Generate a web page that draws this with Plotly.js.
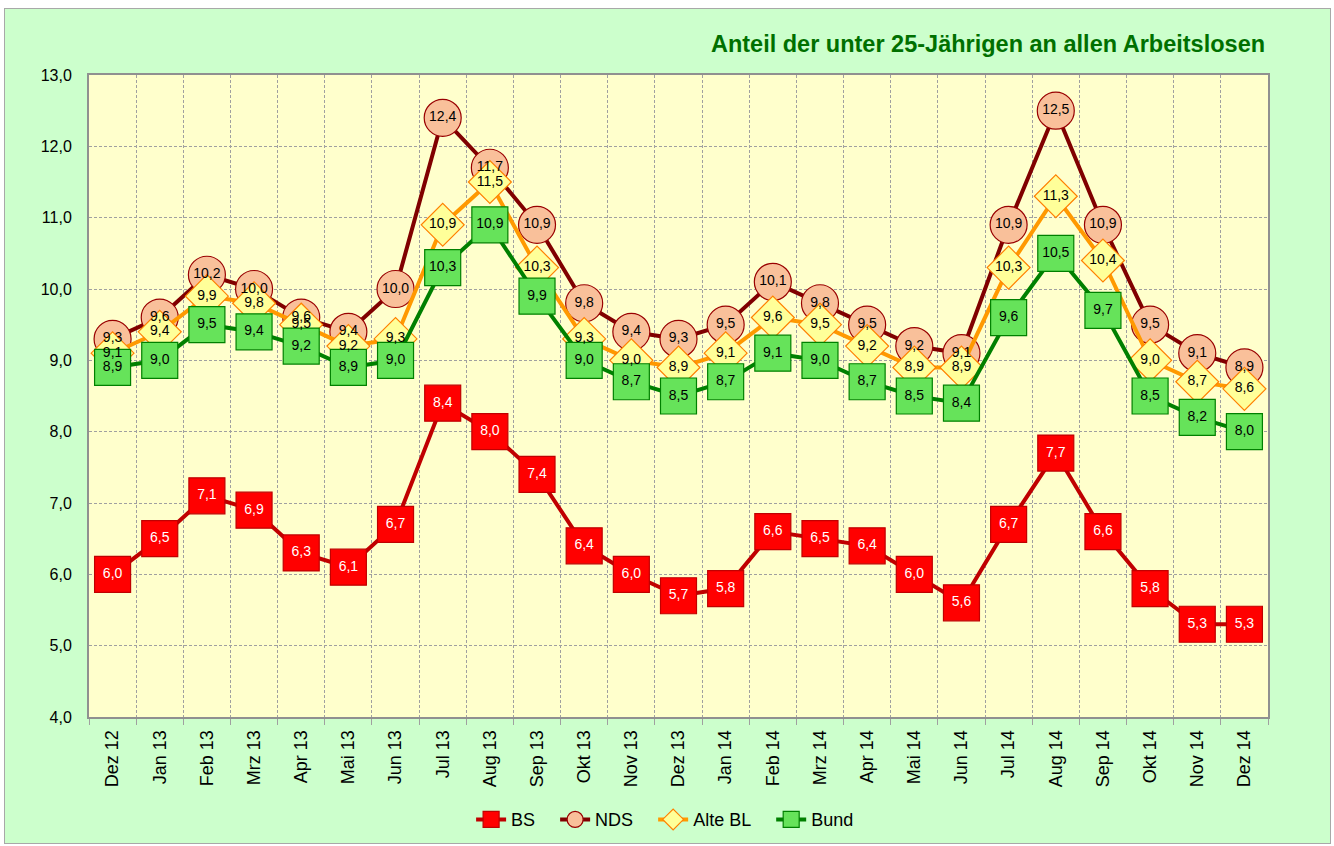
<!DOCTYPE html>
<html>
<head>
<meta charset="utf-8">
<script src="https://cdn.plot.ly/plotly-3.0.1.min.js"></script>
<style>
  html, body { margin: 0; padding: 0; background: #ffffff; }
  #chart { position: absolute; left: 4px; top: 8px; width: 1325px; height: 834px; border: 1px solid #a8a8a8; }
</style>
</head>
<body>
<div id="chart"></div>
<script>
const categories = ["Dez 12","Jan 13","Feb 13","Mrz 13","Apr 13","Mai 13","Jun 13","Jul 13","Aug 13","Sep 13","Okt 13","Nov 13","Dez 13","Jan 14","Feb 14","Mrz 14","Apr 14","Mai 14","Jun 14","Jul 14","Aug 14","Sep 14","Okt 14","Nov 14","Dez 14"];
const bs     = [6.0, 6.5, 7.1, 6.9, 6.3, 6.1, 6.7, 8.4, 8.0, 7.4, 6.4, 6.0, 5.7, 5.8, 6.6, 6.5, 6.4, 6.0, 5.6, 6.7, 7.7, 6.6, 5.8, 5.3, 5.3];
const nds    = [9.3, 9.6, 10.2, 10.0, 9.6, 9.4, 10.0, 12.4, 11.7, 10.9, 9.8, 9.4, 9.3, 9.5, 10.1, 9.8, 9.5, 9.2, 9.1, 10.9, 12.5, 10.9, 9.5, 9.1, 8.9];
const alteBL = [9.1, 9.4, 9.9, 9.8, 9.5, 9.2, 9.3, 10.9, 11.5, 10.3, 9.3, 9.0, 8.9, 9.1, 9.6, 9.5, 9.2, 8.9, 8.9, 10.3, 11.3, 10.4, 9.0, 8.7, 8.6];
const bund   = [8.9, 9.0, 9.5, 9.4, 9.2, 8.9, 9.0, 10.3, 10.9, 9.9, 9.0, 8.7, 8.5, 8.7, 9.1, 9.0, 8.7, 8.5, 8.4, 9.6, 10.5, 9.7, 8.5, 8.2, 8.0];
const seriesNames = ["BS", "NDS", "Alte BL", "Bund"];
const titleText = "Anteil der unter 25-Jährigen an allen Arbeitslosen";

const font = "Liberation Sans, Arial, sans-serif";
const pad = "\u00a0\u00a0\u00a0";

function markTrace(name, y, lineColor, symbol, size, fill, border) {
  return {
    type: "scatter",
    mode: "lines+markers",
    name: name + pad,
    x: categories,
    y: y,
    line: { color: lineColor, width: 4 },
    marker: { symbol: symbol, size: size, color: fill, line: { color: border, width: 1.2 } },
    cliponaxis: false,
    hoverinfo: "x+y"
  };
}
function textTrace(name, y, textColor) {
  return {
    type: "scatter",
    mode: "text",
    name: name,
    x: categories,
    y: y,
    showlegend: false,
    texttemplate: "%{y:.1f}",
    textposition: "middle center",
    textfont: { family: font, size: 14, color: textColor },
    cliponaxis: false,
    hoverinfo: "skip"
  };
}

const data = [
  markTrace(seriesNames[0], bs, "#c00000", "square", 36, "#ff0000", "#c00000"),
  markTrace(seriesNames[1], nds, "#800000", "circle", 37, "#f9c09a", "#990000"),
  markTrace(seriesNames[2], alteBL, "#ff9900", "diamond", 33, "#ffff99", "#ff8000"),
  markTrace(seriesNames[3], bund, "#008000", "square", 36, "#66e35a", "#008000"),
  textTrace(seriesNames[0], bs, "#ffffff"),
  textTrace(seriesNames[1], nds, "#000000"),
  textTrace(seriesNames[2], alteBL, "#000000"),
  textTrace(seriesNames[3], bund, "#000000")
];

const layout = {
  width: 1325,
  height: 834,
  margin: { l: 84, r: 62, t: 66, b: 126, autoexpand: false },
  paper_bgcolor: "#ccffcc",
  plot_bgcolor: "#ffffcc",
  separators: ",.",
  font: { family: font, size: 16, color: "#000000" },
  showlegend: true,
  title: {
    text: "<b>" + titleText + "</b>",
    font: { family: font, size: 23.5, color: "#007000" },
    xref: "container", yref: "container",
    x: 0.951, xanchor: "right",
    y: 0.958, yanchor: "middle"
  },
  xaxis: {
    type: "category",
    tickson: "boundaries",
    ticks: "outside",
    ticklen: 6,
    tickcolor: "#a0a0a0",
    tickangle: -90,
    ticklabelstandoff: 4,
    tickfont: { family: font, size: 18, color: "#000000" },
    showgrid: true,
    gridcolor: "#a0a0a0",
    griddash: "3px,2px",
    gridwidth: 1,
    showline: true,
    mirror: true,
    linecolor: "#909090",
    linewidth: 2,
    zeroline: false,
    automargin: false,
    range: [-0.5, categories.length - 0.5]
  },
  yaxis: {
    range: [4, 13],
    dtick: 1,
    tick0: 4,
    tickformat: ".1f",
    ticks: "",
    tickfont: { family: font, size: 16, color: "#000000" },
    showgrid: true,
    gridcolor: "#a0a0a0",
    griddash: "3px,2px",
    gridwidth: 1,
    showline: true,
    mirror: true,
    linecolor: "#909090",
    linewidth: 2,
    zeroline: false,
    automargin: false,
    ticklabelstandoff: 12
  },
  legend: {
    orientation: "h",
    x: 0.495, xanchor: "center",
    y: -0.16, yanchor: "middle",
    font: { family: font, size: 18, color: "#000000" },
    bgcolor: "rgba(0,0,0,0)",
    itemwidth: 30
  }
};

Plotly.newPlot("chart", data, layout, { displayModeBar: false, staticPlot: true });
</script>
</body>
</html>
